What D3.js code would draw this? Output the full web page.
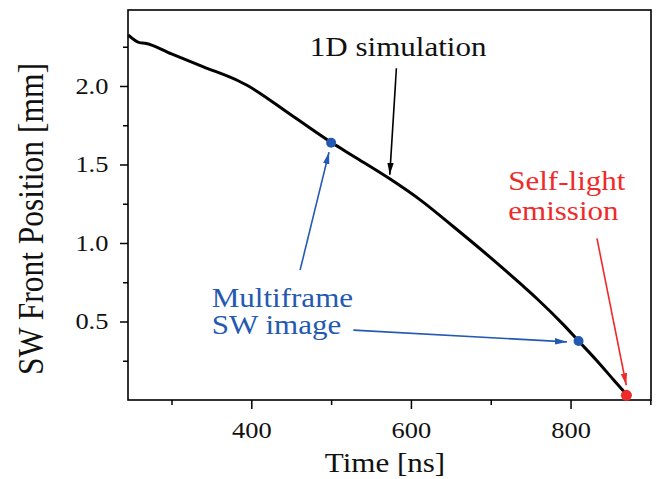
<!DOCTYPE html>
<html>
<head>
<meta charset="utf-8">
<script src="https://cdn.jsdelivr.net/npm/d3@7"></script>
<style>
  body { margin: 0; background: #fff; }
</style>
</head>
<body>
<div id="chart"></div>
<script>
// simulated shock wave front position
const simTime = [246, 260, 267, 300, 340, 386, 394, 450, 501, 528, 574, 612, 653, 699, 740, 758, 791, 810, 833, 854, 871];
const simPos  = [2.324, 2.276, 2.272, 2.204, 2.122, 2.027, 2.006, 1.815, 1.638, 1.553, 1.407, 1.273, 1.105, 0.91, 0.728, 0.645, 0.48, 0.376, 0.25, 0.128, 0.03];

// measured points
const frameTime = [500, 810];
const framePos  = [1.638, 0.376];
const emissionTime = [870];
const emissionPos  = [0.03];

const xMajor = [400, 600, 800];
const xMinor = [300, 500, 700, 900];
const yMajor = [0.5, 1.0, 1.5, 2.0];
const yMinor = [0.25, 0.75, 1.25, 1.75, 2.25];

const blue = '#2459b2';
const red = '#ee2b2b';
const serif = 'Liberation Serif';
const stretch = 1.15; // the figure's lettering is a little wide

const width = 658, height = 479;
const margin = { top: 10, right: 7, bottom: 79, left: 128 };

const x = d3.scaleLinear().domain([245.5, 900.8]).range([margin.left, width - margin.right]);
const y = d3.scaleLinear().domain([0, 2.484]).range([height - margin.bottom, margin.top]);

const svg = d3.select('#chart').append('svg')
    .attr('width', width)
    .attr('height', height);

svg.append('defs').selectAll('marker')
    .data([['head-black', '#000'], ['head-blue', blue], ['head-red', red]])
    .enter().append('marker')
    .attr('id', d => d[0])
    .attr('viewBox', '0 0 12 8')
    .attr('refX', 12).attr('refY', 4)
    .attr('markerWidth', 12).attr('markerHeight', 8)
    .attr('markerUnits', 'userSpaceOnUse')
    .attr('orient', 'auto')
    .append('path')
    .attr('d', 'M0,0.8 L12,4 L0,7.2 Z')
    .attr('fill', d => d[1]);

// axes
svg.append('g')
    .attr('transform', `translate(0,${height - margin.bottom})`)
    .call(d3.axisBottom(x).tickValues(xMajor).tickSize(9).tickPadding(13).tickFormat(d3.format('d')));
svg.append('g')
    .attr('transform', `translate(0,${height - margin.bottom})`)
    .call(d3.axisBottom(x).tickValues(xMinor).tickSize(5).tickFormat(''));

svg.append('g')
    .attr('transform', `translate(${margin.left},0)`)
    .call(d3.axisLeft(y).tickValues(yMajor).tickSize(8).tickPadding(9).tickFormat(d3.format('.1f')));
svg.append('g')
    .attr('transform', `translate(${margin.left},0)`)
    .call(d3.axisLeft(y).tickValues(yMinor).tickSize(5).tickFormat(''));

svg.selectAll('.domain').remove();
svg.selectAll('.tick line').attr('stroke', '#000').attr('stroke-width', 1.5);
svg.selectAll('.tick text')
    .attr('fill', '#111')
    .style('font-family', serif)
    .style('font-size', '23px')
    .attr('transform', `scale(${stretch},1)`);

// frame
svg.append('rect')
    .attr('x', margin.left).attr('y', margin.top)
    .attr('width', width - margin.left - margin.right)
    .attr('height', height - margin.top - margin.bottom)
    .attr('fill', 'none').attr('stroke', '#000').attr('stroke-width', 1.6);

// axis titles
svg.append('text')
    .attr('transform', `translate(385,472) scale(${stretch},1)`)
    .attr('text-anchor', 'middle')
    .style('font-family', serif)
    .style('font-size', '27px').attr('fill', '#111')
    .text('Time [ns]');
svg.append('text')
    .attr('transform', `translate(43,219) rotate(-90) scale(1,${stretch})`)
    .attr('text-anchor', 'middle')
    .style('font-family', serif)
    .style('font-size', '31.5px').attr('fill', '#111')
    .text('SW Front Position [mm]');

// simulation curve
const line = d3.line().x(d => x(d[0])).y(d => y(d[1])).curve(d3.curveMonotoneX);
svg.append('path')
    .datum(d3.zip(simTime, simPos))
    .attr('d', line)
    .attr('fill', 'none').attr('stroke', '#000').attr('stroke-width', 3)
    .attr('stroke-linejoin', 'round');

// annotation arrows, in data units
const arrows = [
    { from: [581.8, 2.113], to: [573.5, 1.435], color: '#000', head: 'head-black' },
    { from: [461.1, 0.827], to: [497.4, 1.579], color: blue, head: 'head-blue' },
    { from: [527.9, 0.445], to: [795.4, 0.37], color: blue, head: 'head-blue' },
    { from: [833.1, 1.029], to: [869.8, 0.094], color: red, head: 'head-red' }
];
svg.selectAll('.arrow')
    .data(arrows)
    .enter().append('line')
    .attr('class', 'arrow')
    .attr('x1', d => x(d.from[0])).attr('y1', d => y(d.from[1]))
    .attr('x2', d => x(d.to[0])).attr('y2', d => y(d.to[1]))
    .attr('stroke', d => d.color).attr('stroke-width', 1.6)
    .attr('marker-end', d => `url(#${d.head})`);

// points
svg.selectAll('.frame-pt')
    .data(d3.zip(frameTime, framePos))
    .enter().append('circle')
    .attr('cx', d => x(d[0])).attr('cy', d => y(d[1]))
    .attr('r', 5).attr('fill', blue);
svg.selectAll('.emit-pt')
    .data(d3.zip(emissionTime, emissionPos))
    .enter().append('circle')
    .attr('cx', d => x(d[0])).attr('cy', d => y(d[1]))
    .attr('r', 5.5).attr('fill', red);

// labels
const labels = [
    { at: [584, 2.19], lines: ['1D simulation'], color: '#111', anchor: 'middle', dy: 0 },
    { at: [721.9, 1.337], lines: ['Self-light', 'emission'], color: red, anchor: 'start', dy: 30 },
    { at: [350.4, 0.593], lines: ['Multiframe', 'SW image'], color: blue, anchor: 'start', dy: 27 }
];
const lab = svg.selectAll('.label')
    .data(labels)
    .enter().append('text')
    .attr('class', 'label')
    .attr('transform', d => `translate(${x(d.at[0])},${y(d.at[1])}) scale(${stretch},1)`)
    .attr('text-anchor', d => d.anchor)
    .attr('fill', d => d.color)
    .style('font-family', serif)
    .style('font-size', '27px');
lab.selectAll('tspan')
    .data(d => d.lines.map((t, i) => ({ t, i, d })))
    .enter().append('tspan')
    .attr('x', 0)
    .attr('dy', d => d.i === 0 ? 0 : d.d.dy)
    .text(d => d.t);
</script>
</body>
</html>
